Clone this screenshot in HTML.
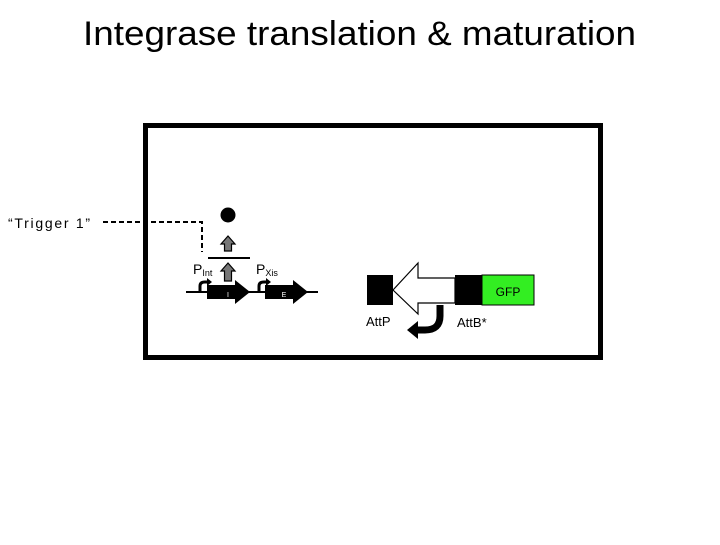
<!DOCTYPE html>
<html><head><style>
body{margin:0;background:#fff;width:720px;height:540px;overflow:hidden;font-family:"Liberation Sans",sans-serif}
</style></head><body>
<svg width="720" height="540" xmlns="http://www.w3.org/2000/svg" font-family="Liberation Sans, sans-serif">
<text x="83" y="45" font-size="34" textLength="553" lengthAdjust="spacingAndGlyphs">Integrase translation &amp; maturation</text>
<rect x="145.5" y="125.5" width="455" height="232" fill="none" stroke="#000" stroke-width="5"/>
<text x="8" y="228" font-size="14" textLength="82" lengthAdjust="spacing">“Trigger  1”</text>
<path d="M103 222 H202 V252" fill="none" stroke="#000" stroke-width="2" stroke-dasharray="5,3"/>
<circle cx="228" cy="215" r="7.5" fill="#000"/>
<path d="M228 236 L235 244 H231.5 V251 H224.5 V244 H221 Z" fill="#777" stroke="#000" stroke-width="1.2"/>
<line x1="208" y1="258" x2="250" y2="258" stroke="#000" stroke-width="2"/>
<path d="M228 263 L235 271 H231.5 V281 H224.5 V271 H221 Z" fill="#777" stroke="#000" stroke-width="1.2"/>
<line x1="186" y1="292" x2="318" y2="292" stroke="#000" stroke-width="2"/>
<path d="M207 285 H235 V280 L250 292 L235 304 V299 H207 Z" fill="#000"/>
<text x="228" y="297" font-size="7" fill="#fff" text-anchor="middle">I</text>
<path d="M265 285 H293 V280 L308 292 L293 304 V299 H265 Z" fill="#000"/>
<text x="284" y="297" font-size="7" fill="#fff" text-anchor="middle">E</text>
<path d="M200 292 V286 Q200 282 205 282 H207" fill="none" stroke="#000" stroke-width="3"/>
<path d="M207 278 L212 282 L207 286Z" fill="#000"/>
<path d="M259 292 V286 Q259 282 264 282 H266" fill="none" stroke="#000" stroke-width="3"/>
<path d="M266 278 L271 282 L266 286Z" fill="#000"/>
<text x="193" y="274" font-size="14">P<tspan font-size="9" dy="2">Int</tspan></text>
<text x="256" y="274" font-size="14">P<tspan font-size="9" dy="2">Xis</tspan></text>
<rect x="367" y="275" width="26" height="30" fill="#000"/>
<path d="M393 290 L418 263 V278 H455 V303 H418 V314 Z" fill="#fff" stroke="#000" stroke-width="1.2"/>
<rect x="455" y="275" width="27" height="30" fill="#000"/>
<rect x="482" y="275" width="52" height="30" fill="#33ee22" stroke="#000" stroke-width="1"/>
<text x="508" y="296" font-size="12" text-anchor="middle">GFP</text>
<path d="M440 305 V316 Q440 330 425 330 H418" fill="none" stroke="#000" stroke-width="7"/>
<path d="M418 321 L407 330 L418 339 Z" fill="#000"/>
<text x="366" y="326" font-size="13">AttP</text>
<text x="457" y="327" font-size="13">AttB*</text>
</svg>
</body></html>
